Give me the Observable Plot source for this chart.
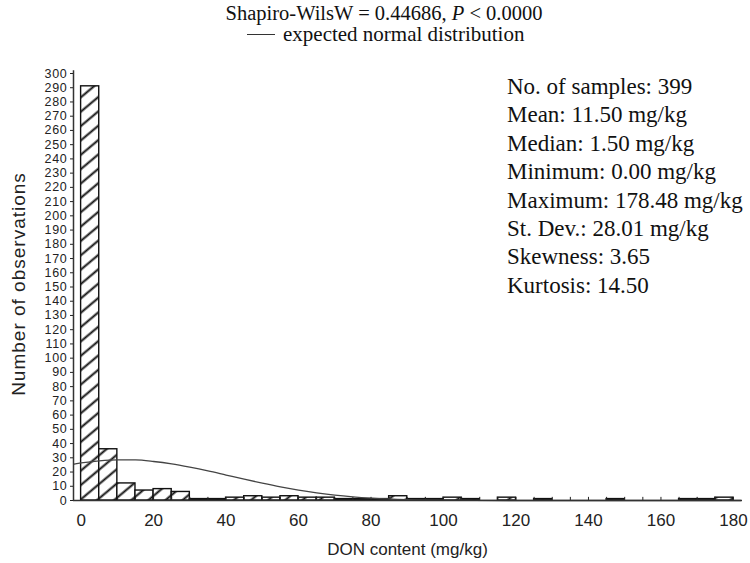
<!DOCTYPE html>
<html>
<head>
<meta charset="utf-8">
<script src="https://cdn.jsdelivr.net/npm/d3@7"></script>
<script src="https://cdn.jsdelivr.net/npm/@observablehq/plot@0.6"></script>
<style>
  html, body { margin: 0; padding: 0; background: #fff; }
  #wrap { position: relative; width: 750px; height: 563px; overflow: hidden; }
  .serif { font-family: "Liberation Serif", "DejaVu Serif", serif; color: #111; position: absolute; white-space: nowrap; }
  .sans { font-family: "Liberation Sans", Arial, sans-serif; color: #222; position: absolute; white-space: nowrap; }
</style>
</head>
<body>
<div id="wrap"></div>
<script>
// ---- data ----
const binStarts = [0,5,10,15,20,25,30,35,40,45,50,55,60,65,70,75,80,85,90,95,100,105,110,115,120,125,130,135,140,145,150,155,160,165,170,175];
const counts    = [291,36,12,7,8,6,1,1,2,3,2,3,2,2,1,1,1,3,1,1,2,1,0,2,0,1,0,0,0,1,0,0,0,1,1,2];
const binWidth = 5;
// expected normal curve
const curveX = [-2,0,5,10,15,20,25,30,35,40,45,50,55,60,65,70,75,80,90,100,120,150,182];
const curveY = [25.6,26.4,27.9,28.6,28.5,27.4,25.7,23.4,20.8,17.9,15.0,12.2,9.6,7.3,5.4,3.8,2.6,1.7,0.6,0.2,0,0,0];
const xTickLabels = [0,20,40,60,80,100,120,140,160,180];
const xMinorTicks = [5,10,15,20,25,30,35,40,45,50,55,60,65,70,75,80,85,90,95,100,105,110,115,120,125,130,135,140,145,150,155,160,165,170,175,180];
const yTicks = [0,10,20,30,40,50,60,70,80,90,100,110,120,130,140,150,160,170,180,190,200,210,220,230,240,250,260,270,280,290,300];
const statsLines = ["No. of samples: 399","Mean: 11.50 mg/kg","Median: 1.50 mg/kg","Minimum: 0.00 mg/kg","Maximum: 178.48 mg/kg","St. Dev.: 28.01 mg/kg","Skewness: 3.65","Kurtosis: 14.50"];

const bins = binStarts.map((b, i) => ({x0: b, x1: b + binWidth, count: counts[i]}));
const curve = curveX.map((x, i) => ({x, y: curveY[i]}));

const svg = Plot.plot({
  width: 750,
  height: 563,
  marginTop: 73,
  marginBottom: 63,
  marginLeft: 73,
  marginRight: 8,
  style: {fontFamily: "'Liberation Sans', Arial, sans-serif", color: "#222", background: "white"},
  x: {domain: [-2.1, 182.5]},
  y: {domain: [0, 300]},
  marks: [
    Plot.rect(bins, {x1: "x0", x2: "x1", y1: 0, y2: "count", fill: "url(#hatch)", stroke: "#111", strokeWidth: 1.4}),
    Plot.ruleX(xMinorTicks, {y1: 0, y2: 2.2, stroke: "#222", strokeWidth: 1}),
    Plot.line(curve, {x: "x", y: "y", curve: "monotone-x", stroke: "#444", strokeWidth: 1.3}),
    Plot.ruleY([0], {stroke: "#333", strokeWidth: 1.5}),
    Plot.ruleX([-2.1], {y1: 0, y2: 302, stroke: "#333", strokeWidth: 1.5}),
    Plot.axisY({ticks: yTicks, tickSize: 3, tickPadding: 3, fontSize: 12.5, label: null}),
    Plot.axisX({ticks: xTickLabels, tickSize: 0, tickPadding: 13, fontSize: 17, label: null})
  ]
});

// slightly wider y tick labels, like the reference
d3.select(svg).selectAll('[aria-label="y-axis tick label"] text').style("letter-spacing", "0.7px");

const defs = d3.select(svg).insert("defs", ":first-child");
const pat = defs.append("pattern")
  .attr("id", "hatch")
  .attr("patternUnits", "userSpaceOnUse")
  .attr("width", 11).attr("height", 11)
  .attr("patternTransform", "rotate(-40)");
pat.append("rect").attr("width", 11).attr("height", 11).attr("fill", "white");
pat.append("line").attr("x1", 0).attr("x2", 11).attr("y1", 5.5).attr("y2", 5.5)
  .attr("stroke", "#111").attr("stroke-width", 2);

const wrap = document.getElementById("wrap");
wrap.appendChild(svg);

// title
const title = document.createElement("div");
title.className = "serif";
title.style.cssText += "left:0;width:750px;text-align:center;top:0px;font-size:20.5px;line-height:26px;padding-left:18px;box-sizing:border-box;";
title.innerHTML = "Shapiro-WilsW = 0.44686, <i>P</i> &lt; 0.0000";
wrap.appendChild(title);

// legend
const leg = document.createElement("div");
leg.className = "serif";
leg.style.cssText += "left:247px;top:22px;font-size:21px;line-height:24px;";
leg.innerHTML = '<span style="display:inline-block;width:28px;height:0;border-top:1.5px solid #333;vertical-align:middle;margin-right:8px;position:relative;top:-2px"></span>expected normal distribution';
wrap.appendChild(leg);

// stats box
const stats = document.createElement("div");
stats.className = "serif";
stats.style.cssText += "left:507px;top:73px;font-size:23px;line-height:28.4px;";
stats.innerHTML = statsLines.map(s => `<div>${s}</div>`).join("");
wrap.appendChild(stats);

// axis labels
const xl = document.createElement("div");
xl.className = "sans";
xl.style.cssText += "left:0;width:815px;text-align:center;top:539px;font-size:17px;line-height:22px;";
xl.textContent = "DON content (mg/kg)";
wrap.appendChild(xl);

const yl = document.createElement("div");
yl.className = "sans";
yl.style.cssText += "left:19px;top:284px;font-size:19px;line-height:22px;letter-spacing:1px;transform:translate(-50%,-50%) rotate(-90deg);";
yl.textContent = "Number of observations";
wrap.appendChild(yl);
</script>
</body>
</html>
